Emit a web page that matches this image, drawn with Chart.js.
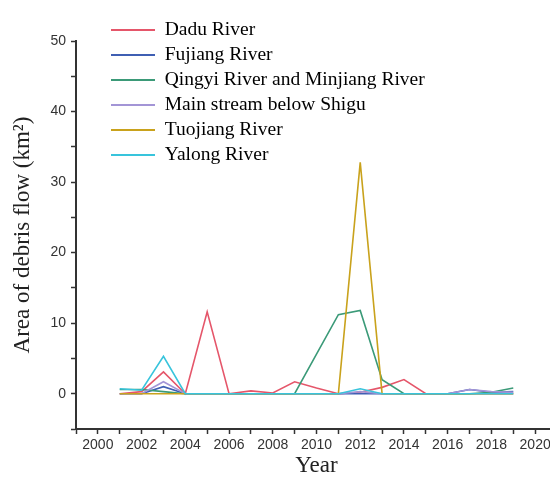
<!DOCTYPE html>
<html>
<head>
<meta charset="utf-8">
<script src="https://cdn.jsdelivr.net/npm/chart.js@4.4.1/dist/chart.umd.min.js"></script>
<style>
  html, body { margin: 0; padding: 0; background: #fff; overflow: hidden; }
  #wrap { width: 580px; height: 487px; position: relative; }
</style>
</head>
<body>
<div id="wrap"><canvas id="c" width="580" height="487"></canvas></div>
<script>
const years = [2001,2002,2003,2004,2005,2006,2007,2008,2009,2010,2011,2012,2013,2014,2015,2016,2017,2018,2019];
const seriesNames = ["Dadu River","Fujiang River","Qingyi River and Minjiang River","Main stream below Shigu","Tuojiang River","Yalong River"];
const dadu      = [0, 0.3, 3.1, 0, 11.6, 0, 0.4, 0.1, 1.7, 0.8, 0, 0.2, 0.9, 2.0, 0, 0, 0, 0, 0];
const fujiang   = [0, 0, 1.0, 0, 0, 0, 0, 0, 0, 0, 0, 0, 0, 0, 0, 0, 0.6, 0.2, 0.3];
const qingyi    = [0.6, 0.6, 0.3, 0, 0, 0, 0, 0, 0, 5.6, 11.2, 11.8, 2.0, 0, 0, 0, 0, 0.2, 0.8];
const mainShigu = [0, 0, 1.7, 0, 0, 0, 0, 0, 0, 0, 0, 0.3, 0, 0, 0, 0, 0.6, 0.3, 0.2];
const tuojiang  = [0, 0, 0, 0, 0, 0, 0, 0, 0, 0, 0, 32.8, 0, 0, 0, 0, 0, 0, 0];
const yalong    = [0.7, 0.5, 5.3, 0, 0, 0, 0, 0, 0, 0, 0, 0.7, 0, 0, 0, 0, 0, 0, 0];
const seriesValues = [dadu, fujiang, qingyi, mainShigu, tuojiang, yalong];
const colors = ["#e5566a", "#3f5fb3", "#3b9a78", "#a395d6", "#c9a21c", "#38c4dc"];

const datasets = seriesNames.map((name, i) => ({
  label: name,
  data: years.map((y, j) => ({ x: y, y: seriesValues[i][j] })),
  borderColor: colors[i],
  backgroundColor: colors[i],
  borderWidth: 1.6,
  pointRadius: 0,
  tension: 0,
  order: seriesNames.length - 1 - i
}));

const legendShift = {
  id: 'legendShift',
  afterLayout(chart) {
    const lg = chart.legend;
    if (!lg) return;
    const dx = 105.5 - lg.left, dy = 14.75 - lg.top;
    lg.left += dx; lg.right += dx; lg.top += dy; lg.bottom += dy;
  }
};

const serif = "'Liberation Serif', 'Times New Roman', serif";
const sans = "'Liberation Sans', Arial, sans-serif";

new Chart(document.getElementById('c'), {
  type: 'line',
  data: { datasets },
  plugins: [legendShift],
  options: {
    responsive: false,
    animation: false,
    layout: { padding: { top: 41, right: 23, left: 0, bottom: 0 } },
    plugins: {
      legend: {
        position: 'chartArea',
        align: 'start',
        labels: {
          boxWidth: 44,
          boxHeight: 2,
          padding: 5.5,
          color: '#222',
          font: { family: serif, size: 19.5 },
          generateLabels(chart) {
            return chart.data.datasets.map((d, i) => ({
              text: d.label,
              fillStyle: d.borderColor,
              strokeStyle: d.borderColor,
              lineWidth: 0,
              hidden: false,
              datasetIndex: i
            }));
          }
        }
      },
      tooltip: { enabled: false }
    },
    scales: {
      x: {
        type: 'linear',
        min: 1999,
        max: 2021,
        afterFit(s) { s.height = 58; },
        border: { display: true, color: '#333', width: 2 },
        grid: { drawOnChartArea: false, drawTicks: true, tickLength: 5, color: '#333', tickWidth: 1.5 },
        ticks: {
          stepSize: 1,
          autoSkip: false,
          maxRotation: 0,
          padding: 3,
          color: '#333',
          font: { family: sans, size: 14 },
          callback: v => (v % 2 === 0 ? String(v) : '')
        },
        title: {
          display: true,
          text: 'Year',
          color: '#222',
          font: { family: serif, size: 23 },
          padding: { top: 2, bottom: 7 }
        }
      },
      y: {
        type: 'linear',
        min: -5,
        max: 50,
        afterFit(s) { s.width = 76; },
        border: { display: true, color: '#333', width: 2 },
        grid: { drawOnChartArea: false, drawTicks: true, tickLength: 5, color: '#333', tickWidth: 1.5 },
        ticks: {
          stepSize: 5,
          autoSkip: false,
          padding: 5,
          color: '#333',
          font: { family: sans, size: 14 },
          callback: v => (v % 10 === 0 ? String(v) : '')
        },
        title: {
          display: true,
          text: 'Area of debris flow (km²)',
          color: '#222',
          font: { family: serif, size: 23 },
          padding: { top: 9, bottom: 0 }
        }
      }
    }
  }
});
</script>
</body>
</html>
